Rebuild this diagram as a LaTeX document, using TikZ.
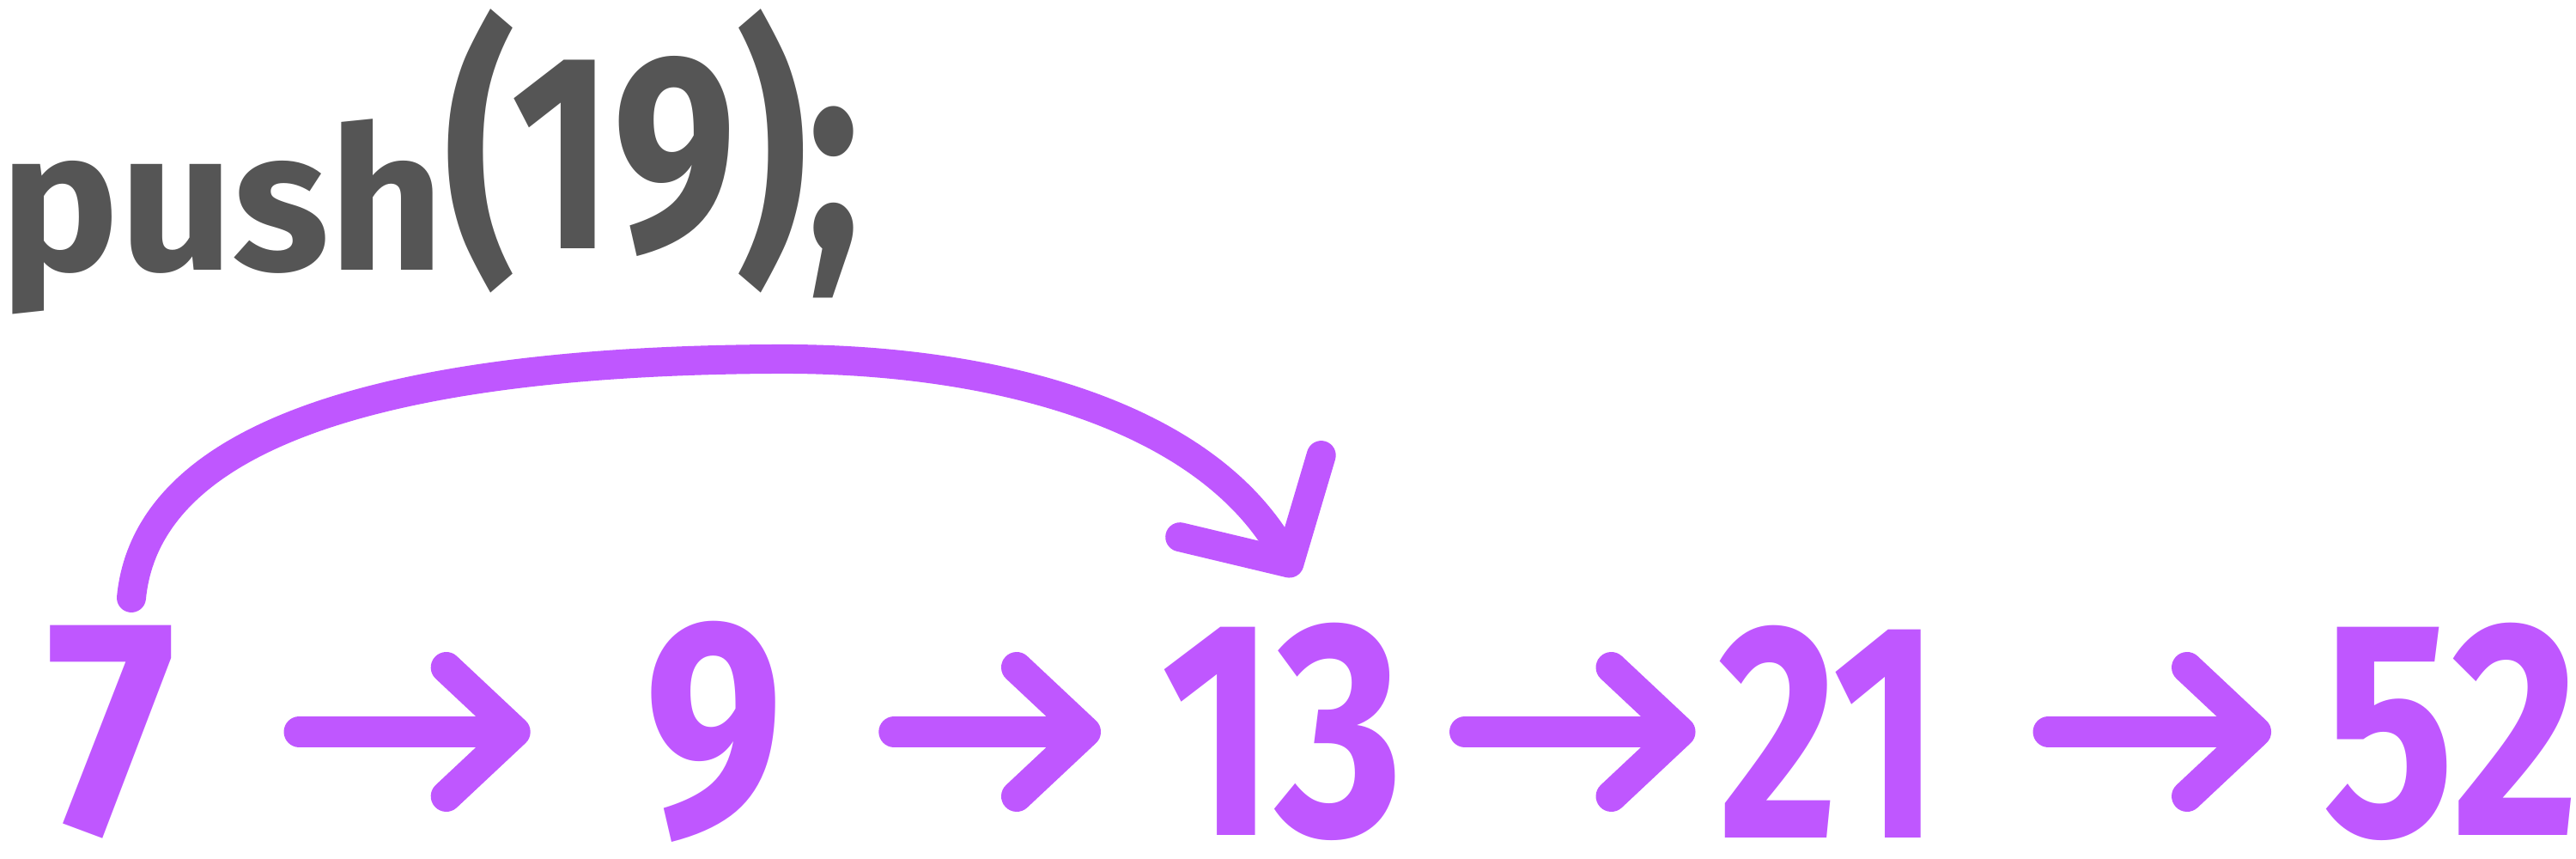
\documentclass[tikz,border=0pt]{standalone}
\usepackage{fontspec}
\setmainfont{Fira Sans}
\usetikzlibrary{arrows.meta}
\definecolor{penpurple}{RGB}{191,87,255}
\definecolor{pengray}{RGB}{85,85,85}
\tikzset{
  digit/.style={text=penpurple, font=\fontsize{102}{102}\selectfont\bfseries, inner sep=0pt, outer sep=0pt},
  rowarrow/.style={draw=penpurple, line width=0.36cm, line cap=round, line join=round,
    -{Straight Barb[length=0.8cm,width=1.5cm,round]}},
  arcarrow/.style={draw=penpurple, line width=0.34cm, line cap=round, line join=round,
    -{Straight Barb[length=0.9cm,width=1.9cm,round]}}
}
\begin{document}
\begin{tikzpicture}
\fill[white] (0,0) rectangle (30,9.99);
\useasboundingbox (0,0) rectangle (30,9.99);

\node[anchor=base west, text=pengray, font=\fontsize{66}{66}\selectfont\bfseries, inner sep=0pt] (push) at (0,6.84)
  {push\raisebox{0.25cm}{\scalebox{1.1}[1.4]{(19);}}};

\node[digit, minimum width=2.49cm] (n7) at (1.30,1.47) {\scalebox{0.9}[1]{7}};
\node[digit, minimum width=1.53cm] (n9) at (8.32,1.47) {\scalebox{0.8}[1]{9}};
\node[digit, minimum width=3.18cm] (n13) at (14.94,1.47) {\scalebox{0.8}[1]{13}};
\node[digit, minimum width=2.73cm] (n21) at (21.30,1.47) {\scalebox{0.75}[1]{21}};
\node[digit, minimum width=2.92cm] (n52) at (28.54,1.47) {\scalebox{0.8}[1]{52}};

\draw[rowarrow, shorten <=0.94cm, shorten >=1.34cm] (n7.east) -- (n9.west);
\draw[rowarrow, shorten <=1.29cm, shorten >=0.53cm] (n9.east) -- (n13.west);
\draw[rowarrow, shorten <=0.53cm, shorten >=0.19cm] (n13.east) -- (n21.west);
\draw[rowarrow, shorten <=1.19cm, shorten >=0.60cm] (n21.east) -- (n52.west);

\coordinate (arcS) at ([shift={(0.23,0.32)}]n7.north);
\coordinate (arcE) at ([shift={(0.16,0.55)}]n13.north);
\draw[arcarrow] (arcS) .. controls (1.75,5.29) and (5.60,5.79) .. (9.00,5.81)
  .. controls (11.50,5.83) and (14.00,5.19) .. (arcE);
\end{tikzpicture}
\end{document}
